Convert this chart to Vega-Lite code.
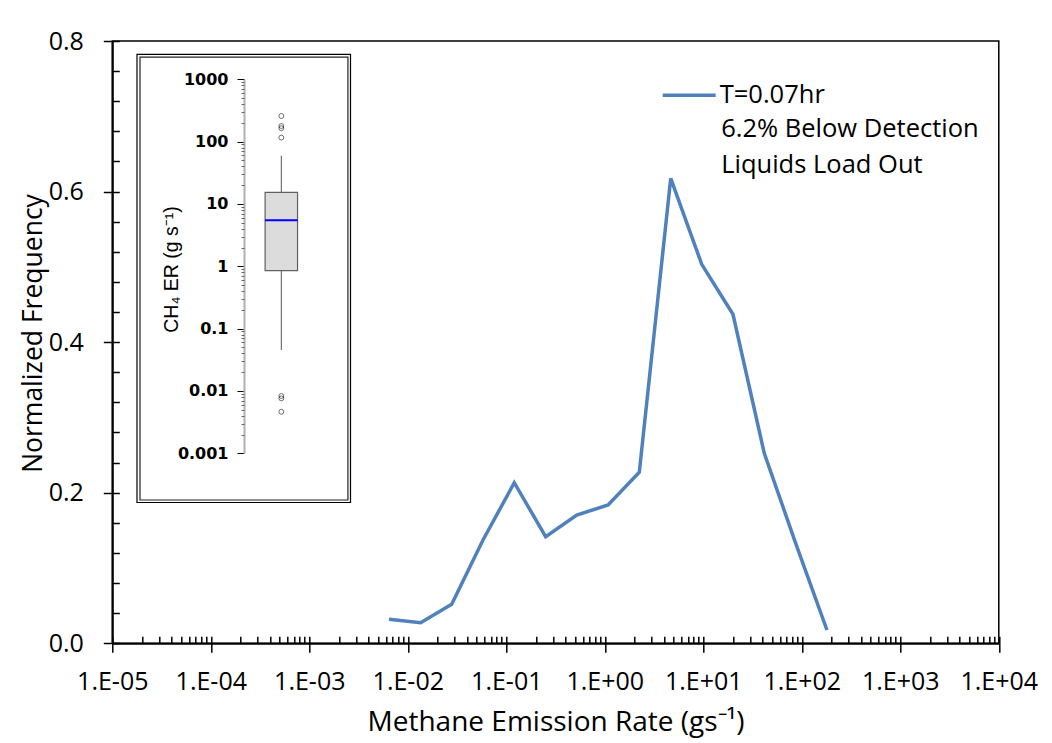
{
  "$schema": "https://vega.github.io/schema/vega-lite/v6.json",
  "width": 886.5,
  "height": 602.3,
  "autosize": {"type": "none"},
  "padding": {"left": 112.3, "top": 41, "right": 53.2, "bottom": 99.7},
  "background": "white",
  "config": {
    "view": {"stroke": "black", "strokeWidth": 1.5},
    "font": "Open Sans",
    "axis": {"grid": false}
  },
  "datasets": {
    "emissions": [
      {"rate": 0.00644, "freq": 0.0319, "series": "T=0.07hr"},
      {"rate": 0.0135, "freq": 0.0274, "series": "T=0.07hr"},
      {"rate": 0.0279, "freq": 0.0518, "series": "T=0.07hr"},
      {"rate": 0.058, "freq": 0.1372, "series": "T=0.07hr"},
      {"rate": 0.1205, "freq": 0.2133, "series": "T=0.07hr"},
      {"rate": 0.251, "freq": 0.1416, "series": "T=0.07hr"},
      {"rate": 0.519, "freq": 0.1704, "series": "T=0.07hr"},
      {"rate": 1.08, "freq": 0.1837, "series": "T=0.07hr"},
      {"rate": 2.24, "freq": 0.2271, "series": "T=0.07hr"},
      {"rate": 4.67, "freq": 0.6176, "series": "T=0.07hr"},
      {"rate": 9.64, "freq": 0.5034, "series": "T=0.07hr"},
      {"rate": 20.0, "freq": 0.437, "series": "T=0.07hr"},
      {"rate": 41.6, "freq": 0.2524, "series": "T=0.07hr"},
      {"rate": 86.7, "freq": 0.1328, "series": "T=0.07hr"},
      {"rate": 180, "freq": 0.0177, "series": "T=0.07hr"}
    ],
    "notes": [
      {"note": "6.2% Below Detection"},
      {"note": "Liquids Load Out"}
    ],
    "boxstats": [
      {"group": "Liquids Load Out", "lower": 0.0454, "q1": 0.851, "median": 5.47, "q3": 15.4, "upper": 59.5}
    ],
    "outliers": [
      {"value": 258}, {"value": 178}, {"value": 164}, {"value": 116},
      {"value": 0.0083}, {"value": 0.0076}, {"value": 0.00464}
    ]
  },
  "resolve": {
    "scale": {"x": "independent", "y": "independent", "color": "independent", "shape": "independent"},
    "axis": {"x": "independent", "y": "independent"}
  },
  "layer": [
    {
      "data": {"name": "emissions"},
      "mark": {"type": "line", "strokeWidth": 3.5},
      "encoding": {
        "x": {
          "field": "rate", "type": "quantitative",
          "scale": {"type": "log", "domain": [1e-5, 1e4]},
          "axis": {
            "orient": "bottom",
            "values": [1e-5, 1e-4, 1e-3, 1e-2, 1e-1, 1, 10, 100, 1000, 10000],
            "labelExpr": "'1.E' + (datum.value < 0.99 ? '-' : '+') + '0' + abs(round(log(datum.value) / LN10))",
            "labelOverlap": false, "labelFlush": false,
            "tickSize": 9, "tickWidth": 1.5, "tickColor": "black",
            "domainColor": "black", "domainWidth": 2,
            "labelFont": "Open Sans", "labelFontSize": 25, "labelColor": "black", "labelPadding": 17,
            "title": "Methane Emission Rate (gs⁻¹)",
            "titleFont": "Open Sans", "titleFontSize": 28, "titleFontWeight": "normal", "titleColor": "black", "titlePadding": 14
          }
        },
        "y": {
          "field": "freq", "type": "quantitative",
          "scale": {"domain": [0, 0.8]},
          "axis": {
            "orient": "left",
            "values": [0, 0.2, 0.4, 0.6, 0.8],
            "format": ".1f",
            "tickSize": 9, "tickWidth": 1.5, "tickColor": "black",
            "domainColor": "black", "domainWidth": 2,
            "labelFont": "Open Sans", "labelFontSize": 25, "labelColor": "black", "labelPadding": 20,
            "title": "Normalized Frequency",
            "titleFont": "Open Sans", "titleFontSize": 26.5, "titleFontWeight": "normal", "titleColor": "black",
            "titleX": -65, "titleY": 292
          }
        },
        "color": {
          "field": "series", "type": "nominal",
          "scale": {"range": ["#4f81bd"]},
          "legend": {
            "orient": "none", "legendX": 548.4, "legendY": 25.8,
            "title": null, "padding": 0,
            "symbolType": "stroke", "symbolSize": 2800, "symbolStrokeWidth": 3.5,
            "labelFont": "Open Sans", "labelFontSize": 25.5, "labelColor": "black",
            "labelLimit": 0, "labelOffset": 2
          }
        }
      }
    },
    {
      "data": {"name": "notes"},
      "mark": {"type": "point", "opacity": 0},
      "encoding": {
        "shape": {
          "field": "note", "type": "nominal",
          "sort": ["6.2% Below Detection", "Liquids Load Out"],
          "legend": {
            "orient": "none", "legendX": 550.4, "legendY": 75.5,
            "title": null, "padding": 0, "rowPadding": 9,
            "symbolType": "circle", "symbolSize": 1, "symbolOpacity": 0, "symbolStrokeWidth": 0,
            "labelFont": "Open Sans", "labelFontSize": 25.5, "labelColor": "black",
            "labelLimit": 0, "labelOffset": 33
          }
        }
      }
    },
    {
      "data": {"name": "emissions"},
      "mark": {"type": "line", "opacity": 0},
      "encoding": {
        "x": {
          "field": "rate", "type": "quantitative",
          "scale": {"type": "log", "domain": [1e-5, 1e4]},
          "axis": {
            "orient": "bottom", "labels": false, "domain": false, "title": null,
            "tickSize": -7, "tickWidth": 1.5, "tickColor": "black",
            "values": [
              1e-5, 2e-5, 3e-5, 4e-5, 5e-5, 6e-5, 7e-5, 8e-5, 9e-5,
              1e-4, 2e-4, 3e-4, 4e-4, 5e-4, 6e-4, 7e-4, 8e-4, 9e-4,
              1e-3, 2e-3, 3e-3, 4e-3, 5e-3, 6e-3, 7e-3, 8e-3, 9e-3,
              0.01, 0.02, 0.03, 0.04, 0.05, 0.06, 0.07, 0.08, 0.09,
              0.1, 0.2, 0.3, 0.4, 0.5, 0.6, 0.7, 0.8, 0.9,
              1, 2, 3, 4, 5, 6, 7, 8, 9,
              10, 20, 30, 40, 50, 60, 70, 80, 90,
              100, 200, 300, 400, 500, 600, 700, 800, 900,
              1000, 2000, 3000, 4000, 5000, 6000, 7000, 8000, 9000,
              10000
            ]
          }
        },
        "y": {
          "field": "freq", "type": "quantitative",
          "scale": {"domain": [0, 0.8]},
          "axis": {
            "orient": "left", "labels": false, "domain": false, "title": null,
            "tickSize": -7, "tickWidth": 1.5, "tickColor": "black",
            "values": [0, 0.04, 0.08, 0.12, 0.16, 0.2, 0.24, 0.28, 0.32, 0.36, 0.4, 0.44, 0.48, 0.52, 0.56, 0.6, 0.64, 0.68, 0.72, 0.76, 0.8]
          }
        }
      }
    },
    {
      "data": {"values": [{}]},
      "mark": {"type": "rect", "fillOpacity": 0, "stroke": "black", "strokeWidth": 1.2},
      "encoding": {
        "x": {"datum": 0, "type": "quantitative", "scale": {"domain": [0, 100], "range": [24.7, 238.2]}, "axis": null},
        "x2": {"datum": 100},
        "y": {"datum": 2519, "type": "quantitative", "scale": {"type": "log", "domain": [0.001, 1000], "range": [412.3, 38.3]}, "axis": null},
        "y2": {"datum": 0.0001625}
      }
    },
    {
      "data": {"values": [{}]},
      "mark": {"type": "rect", "fillOpacity": 0, "stroke": "#222222", "strokeWidth": 1.2},
      "encoding": {
        "x": {"datum": 1.4, "type": "quantitative", "scale": {"domain": [0, 100], "range": [24.7, 238.2]}, "axis": null},
        "x2": {"datum": 98.8},
        "y": {"datum": 2265, "type": "quantitative", "scale": {"type": "log", "domain": [0.001, 1000], "range": [412.3, 38.3]}, "axis": null},
        "y2": {"datum": 0.000178}
      }
    },
    {
      "data": {"name": "boxstats"},
      "mark": {"type": "rule", "color": "#555555", "strokeWidth": 1},
      "encoding": {
        "x": {"datum": 67.6, "type": "quantitative", "scale": {"domain": [0, 100], "range": [24.7, 238.2]}, "axis": null},
        "y": {"field": "upper", "type": "quantitative", "scale": {"type": "log", "domain": [0.001, 1000], "range": [412.3, 38.3]}, "axis": null},
        "y2": {"field": "lower"}
      }
    },
    {
      "data": {"name": "boxstats"},
      "mark": {"type": "rect", "fill": "#dcdcdc", "stroke": "#606060", "strokeWidth": 1.2},
      "encoding": {
        "x": {"datum": 60, "type": "quantitative", "scale": {"domain": [0, 100], "range": [24.7, 238.2]}, "axis": null},
        "x2": {"datum": 75.2},
        "y": {
          "field": "q3", "type": "quantitative",
          "scale": {"type": "log", "domain": [0.001, 1000], "range": [412.3, 38.3]},
          "axis": {
            "orient": "left", "offset": -131.7,
            "values": [0.001, 0.01, 0.1, 1, 10, 100, 1000],
            "format": "~g",
            "labelFont": "DejaVu Sans", "labelFontSize": 16, "labelFontWeight": "bold", "labelColor": "black", "labelPadding": 9,
            "tickSize": 7, "tickColor": "black", "tickWidth": 1,
            "domainColor": "#b0b0b0", "domainWidth": 2,
            "title": "CH₄ ER (g s⁻¹)",
            "titleFont": "Liberation Sans", "titleFontSize": 19.5, "titleFontWeight": "normal", "titleColor": "black",
            "titleX": -63, "titleY": 228
          }
        },
        "y2": {"field": "q1"}
      }
    },
    {
      "data": {"name": "boxstats"},
      "mark": {"type": "rule", "color": "#0000ff", "strokeWidth": 2},
      "encoding": {
        "x": {"datum": 60, "type": "quantitative", "scale": {"domain": [0, 100], "range": [24.7, 238.2]}, "axis": null},
        "x2": {"datum": 75.2},
        "y": {"field": "median", "type": "quantitative", "scale": {"type": "log", "domain": [0.001, 1000], "range": [412.3, 38.3]}, "axis": null}
      }
    },
    {
      "data": {"name": "outliers"},
      "mark": {"type": "point", "filled": false, "color": "black", "size": 24, "strokeWidth": 0.8},
      "encoding": {
        "x": {"datum": 67.6, "type": "quantitative", "scale": {"domain": [0, 100], "range": [24.7, 238.2]}, "axis": null},
        "y": {
          "field": "value", "type": "quantitative",
          "scale": {"type": "log", "domain": [0.001, 1000], "range": [412.3, 38.3]},
          "axis": {
            "orient": "left", "offset": -131.7, "labels": false, "domain": false, "title": null,
            "tickSize": 3, "tickColor": "#666666", "tickWidth": 1,
            "values": [
              0.002, 0.003, 0.004, 0.005, 0.006, 0.007, 0.008, 0.009,
              0.02, 0.03, 0.04, 0.05, 0.06, 0.07, 0.08, 0.09,
              0.2, 0.3, 0.4, 0.5, 0.6, 0.7, 0.8, 0.9,
              2, 3, 4, 5, 6, 7, 8, 9,
              20, 30, 40, 50, 60, 70, 80, 90,
              200, 300, 400, 500, 600, 700, 800, 900
            ]
          }
        }
      }
    }
  ]
}
